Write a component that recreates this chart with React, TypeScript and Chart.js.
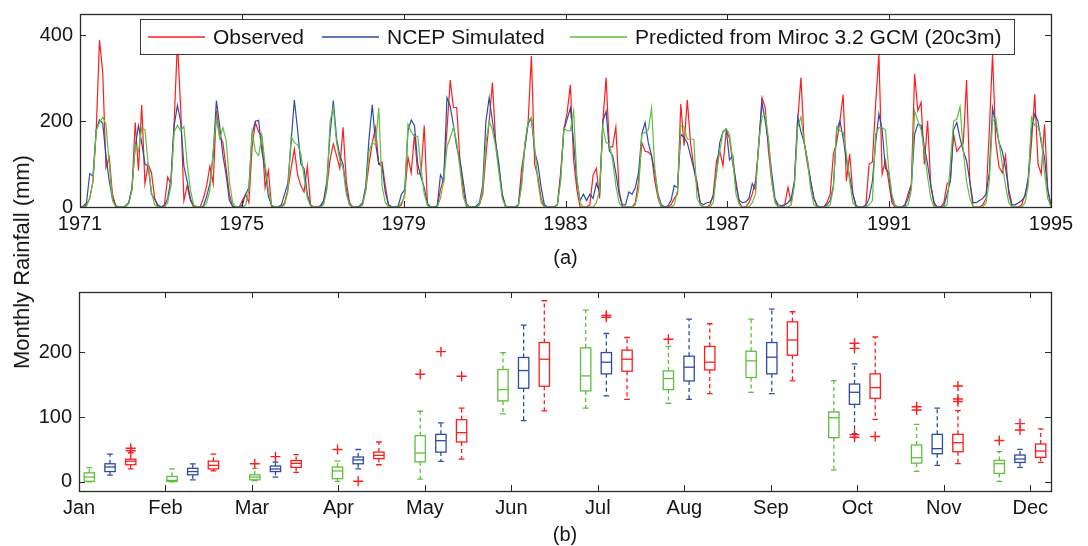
import React, { useEffect, useRef } from "react";
import { Chart, registerables } from "chart.js";

Chart.register(...registerables);

const FONT = "'Liberation Sans', Arial, Helvetica, sans-serif";
const TEXT = "#161616";
const AXIS = "#2a2a2a";
const RED = "#ff1c1c";
const BLUE = "#2d4ca6";
const GREEN = "#5fbf3e";

// ---------- panel (a): monthly series 1971-1995 ----------
const startYear = 1971;
const endYear = 1995;
const yearTicks = [1971, 1975, 1979, 1983, 1987, 1991, 1995];
const topYTicks = [0, 200, 400];
const seriesNames = ["Observed", "NCEP Simulated", "Predicted from Miroc 3.2 GCM (20c3m)"];

const observed = [
  0, 0, 5, 20, 60, 180, 389, 313, 92, 116, 30, 3,
  0, 0, 0, 10, 40, 197, 85, 238, 54, 100, 80, 20,
  0, 0, 5, 70, 55, 200, 385, 230, 15, 50, 15, 0,
  0, 0, 20, 50, 95, 54, 225, 165, 150, 90, 30, 0,
  0, 0, 15, 30, 10, 140, 197, 175, 165, 45, 85, 0,
  0, 0, 0, 10, 40, 90, 135, 75, 50, 35, 95, 5,
  0, 0, 0, 10, 45, 110, 147, 120, 90, 186, 60, 10,
  0, 0, 0, 5, 40, 100, 150, 185, 100, 105, 50, 5,
  0, 0, 0, 5, 30, 116, 80, 170, 77, 77, 190, 5,
  0, 0, 0, 40, 70, 180, 296, 232, 232, 108, 40, 0,
  0, 0, 0, 5, 30, 120, 200, 290, 150, 90, 30, 0,
  0, 0, 0, 5, 90, 140, 200, 352, 100, 70, 20, 0,
  0, 0, 0, 5, 80, 180, 220, 285, 110, 40, 0, 0,
  0, 5, 75, 90, 20, 200, 302, 140, 140, 186, 40, 0,
  0, 0, 0, 10, 60, 150, 130, 128, 120, 60, 20, 0,
  0, 0, 5, 20, 30, 240, 143, 250, 150, 93, 60, 5,
  0, 0, 5, 30, 108, 130, 96, 178, 160, 100, 60, 10,
  0, 0, 10, 30, 60, 140, 255, 232, 130, 60, 15, 0,
  0, 5, 46, 10, 60, 201, 302, 150, 100, 60, 20, 0,
  0, 0, 10, 30, 124, 150, 201, 262, 60, 124, 30, 0,
  0, 0, 5, 100, 105, 240, 356, 77, 108, 60, 10, 0,
  0, 0, 5, 31, 54, 310, 224, 244, 100, 201, 50, 5,
  0, 0, 10, 54, 60, 170, 130, 140, 150, 296, 60, 0,
  0, 0, 5, 20, 178, 356, 150, 93, 80, 120, 30, 0,
  0, 0, 5, 30, 60, 150, 263, 100, 77, 193, 40, 0,
];

const ncep = [
  0, 2, 10, 78, 72, 180, 203, 195, 120, 60, 20, 3,
  0, 0, 3, 10, 45, 140, 190, 150, 100, 95, 30, 18,
  5, 0, 3, 20, 65, 190, 237, 200, 95, 60, 20, 3,
  0, 0, 2, 25, 55, 120, 248, 190, 120, 75, 15, 2,
  0, 0, 5, 30, 45, 170, 200, 202, 130, 90, 25, 3,
  0, 0, 5, 30, 55, 150, 250, 180, 100, 90, 30, 3,
  0, 0, 3, 15, 60, 170, 248, 160, 120, 100, 40, 5,
  0, 0, 2, 10, 50, 160, 238, 150, 100, 95, 35, 5,
  0, 0, 3, 30, 40, 178, 203, 190, 100, 70, 45, 8,
  0, 0, 3, 75, 60, 255, 235, 190, 140, 110, 60, 8,
  0, 0, 2, 10, 50, 200, 255, 200, 150, 100, 30, 3,
  0, 0, 0, 5, 60, 140, 195, 207, 130, 100, 45, 5,
  0, 0, 0, 5, 70, 180, 205, 231, 150, 60, 15, 30,
  15, 30, 20, 55, 35, 200, 223, 131, 120, 80, 30, 5,
  5, 35, 30, 45, 80, 170, 197, 150, 120, 80, 30, 5,
  0, 3, 15, 50, 45, 170, 162, 150, 120, 90, 50, 10,
  5, 10, 11, 23, 80, 150, 175, 182, 110, 120, 50, 15,
  10, 12, 20, 55, 40, 150, 244, 200, 150, 80, 20, 5,
  3, 5, 10, 20, 60, 209, 175, 150, 110, 60, 20, 3,
  0, 0, 5, 15, 50, 178, 201, 160, 110, 70, 30, 3,
  0, 0, 3, 20, 60, 150, 217, 180, 90, 80, 20, 3,
  0, 0, 3, 20, 50, 170, 193, 190, 140, 100, 50, 10,
  0, 0, 3, 30, 60, 180, 197, 160, 130, 108, 60, 10,
  10, 15, 20, 30, 80, 231, 190, 150, 130, 90, 40, 5,
  5, 10, 15, 25, 70, 180, 217, 200, 150, 115, 40, 5,
];

const miroc = [
  0, 0, 2, 20, 60, 178, 197, 209, 193, 100, 15, 0,
  0, 0, 2, 8, 40, 145, 130, 185, 180, 100, 35, 5,
  0, 0, 0, 10, 50, 175, 190, 178, 188, 100, 40, 5,
  0, 0, 0, 10, 40, 130, 208, 160, 185, 155, 60, 10,
  0, 0, 0, 5, 40, 175, 130, 120, 168, 100, 40, 5,
  0, 0, 0, 5, 35, 165, 150, 145, 125, 70, 20, 3,
  0, 0, 0, 5, 40, 200, 232, 150, 110, 90, 30, 5,
  0, 0, 0, 5, 40, 130, 150, 145, 231, 50, 10, 0,
  0, 0, 0, 10, 25, 193, 175, 165, 165, 90, 30, 3,
  0, 0, 0, 20, 60, 140, 162, 186, 150, 90, 25, 3,
  0, 0, 0, 5, 40, 150, 200, 180, 140, 80, 20, 2,
  0, 0, 0, 3, 50, 150, 200, 209, 140, 60, 10, 0,
  0, 0, 0, 5, 60, 184, 178, 178, 224, 70, 10, 0,
  0, 0, 0, 10, 40, 186, 150, 147, 110, 50, 10, 0,
  0, 0, 0, 5, 40, 170, 174, 180, 231, 90, 25, 0,
  0, 0, 0, 5, 40, 190, 187, 158, 158, 158, 20, 5,
  0, 0, 0, 10, 80, 131, 175, 182, 170, 110, 30, 5,
  0, 0, 0, 10, 30, 150, 210, 217, 160, 60, 10, 0,
  0, 0, 0, 5, 50, 186, 210, 151, 110, 40, 5, 0,
  0, 0, 0, 5, 45, 187, 178, 174, 124, 60, 10, 0,
  0, 0, 0, 5, 15, 170, 185, 185, 180, 90, 30, 3,
  0, 0, 0, 5, 40, 224, 201, 180, 130, 70, 20, 0,
  0, 0, 0, 5, 100, 200, 205, 234, 130, 60, 20, 0,
  0, 0, 0, 10, 60, 201, 207, 150, 100, 50, 10, 0,
  0, 0, 0, 10, 50, 209, 190, 187, 160, 80, 20, 0,
];

// ---------- panel (b): monthly box plots ----------
const months = ["Jan", "Feb", "Mar", "Apr", "May", "Jun", "Jul", "Aug", "Sep", "Oct", "Nov", "Dec"];
const bottomYTicks = [0, 100, 200];

// [lower whisker, Q1, median, Q3, upper whisker] per month
const mirocBox = [
  [0, 1, 7.5, 14, 22],
  [0, 0.8, 2.3, 8.5, 20],
  [2, 3.3, 7.5, 11, 21],
  [0.8, 5, 17, 23, 32],
  [4.4, 31, 44.6, 71.4, 109],
  [105, 125, 142.5, 173.4, 199.6],
  [114, 140.4, 163.6, 206.8, 265],
  [121.4, 142.5, 159.5, 171.3, 209],
  [138.3, 161, 186.8, 201.6, 251],
  [18.3, 68.3, 99, 108, 156.4],
  [16.2, 29, 37.4, 57, 88.9],
  [0.8, 13.1, 28.1, 33.2, 46.6],
];
const ncepBox = [
  [10.6, 16, 23, 28, 43],
  [3.3, 11, 16, 21, 28],
  [7.5, 16, 20, 24.5, 30.6],
  [20, 28, 34, 38.4, 50],
  [31.7, 46, 63.6, 73.4, 91],
  [94.5, 144.5, 171.8, 192, 242],
  [132.7, 166.7, 184.7, 199.6, 229],
  [127.5, 155.8, 177, 194, 251],
  [136.2, 166.7, 192.4, 215, 266.6],
  [74.4, 119.7, 138.3, 151, 182],
  [25.5, 43.5, 51.3, 73.4, 114],
  [22.4, 30.1, 35.3, 41.5, 50.2],
];
const observedBox = [
  [20, 26.5, 32, 35, 45],
  [17, 20, 25.5, 32, 43],
  [14.7, 22.4, 28.6, 33, 42],
  [26.5, 36, 41, 46, 61.6],
  [35.3, 61.6, 76, 96, 114],
  [109.5, 147.6, 189.3, 215, 279.5],
  [127.5, 170.8, 189.3, 203.3, 222.8],
  [136.2, 172.8, 184.7, 209, 244],
  [155.8, 195.5, 219, 247, 262.5],
  [96.6, 129, 145.5, 166.7, 223.6],
  [28.1, 46.6, 60.5, 73.4, 110],
  [30.1, 37.9, 47.6, 58.5, 81.7],
];

// outliers per month
const mirocOut = [[], [], [28], [50], [166], [], [], [220], [], [], [116, 111], [64]];
const ncepOut = [[], [], [39], [1], [201], [], [257, 254], [], [], [214, 206, 73, 69], [], [90, 80]];
const observedOut = [[52, 48], [], [], [], [163], [], [], [], [], [70], [148, 128, 124], []];

const boxGroups = [
  { stats: mirocBox, outliers: mirocOut, color: GREEN },
  { stats: ncepBox, outliers: ncepOut, color: BLUE },
  { stats: observedBox, outliers: observedOut, color: RED },
];

const boxPos = (month: number, series: number) => month * 4 + series + 1;
const monthTickPos = (month: number) => 0.5 + (month * 46) / 11;
const xOfIndex = (i: number) => startYear + (i * (endYear - startYear)) / (observed.length - 1);

// ---------- plugins ----------
const framePlugin = {
  id: "frame",
  afterDraw(chart: any) {
    const { ctx, chartArea: a, scales } = chart;
    const x = scales.x;
    const y = scales.y;
    const L = 6;
    ctx.save();
    ctx.strokeStyle = AXIS;
    ctx.lineWidth = 1;
    ctx.setLineDash([]);
    ctx.beginPath();
    for (const t of x.ticks) {
      const px = Math.round(x.getPixelForValue(t.value)) + 0.5;
      ctx.moveTo(px, a.bottom);
      ctx.lineTo(px, a.bottom - L);
      ctx.moveTo(px, a.top);
      ctx.lineTo(px, a.top + L);
    }
    for (const t of y.ticks) {
      const py = Math.round(y.getPixelForValue(t.value)) + 0.5;
      ctx.moveTo(a.left, py);
      ctx.lineTo(a.left + L, py);
      ctx.moveTo(a.right, py);
      ctx.lineTo(a.right - L, py);
    }
    ctx.stroke();
    ctx.lineWidth = 1.3;
    ctx.strokeRect(Math.round(a.left) + 0.5, Math.round(a.top) + 0.5, Math.round(a.right - a.left), Math.round(a.bottom - a.top));
    ctx.restore();
  },
};

const legendPlugin = {
  id: "boxedLegend",
  afterDatasetsDraw(chart: any) {
    const { ctx, chartArea: a } = chart;
    const left = a.left + 60;
    const top = a.top + 5;
    const width = 874;
    const height = 35;
    const itemOffsets = [8, 182, 430];
    const colors = [RED, BLUE, GREEN];
    ctx.save();
    ctx.fillStyle = "#ffffff";
    ctx.fillRect(left, top, width, height);
    ctx.strokeStyle = "#3a3a3a";
    ctx.lineWidth = 1;
    ctx.strokeRect(left + 0.5, top + 0.5, width, height);
    const cy = top + height / 2 + 0.5;
    ctx.font = `21px ${FONT}`;
    ctx.textBaseline = "middle";
    ctx.textAlign = "left";
    seriesNames.forEach((name, i) => {
      const sx = left + itemOffsets[i];
      ctx.strokeStyle = colors[i];
      ctx.lineWidth = 1.3;
      ctx.beginPath();
      ctx.moveTo(sx, cy);
      ctx.lineTo(sx + 57, cy);
      ctx.stroke();
      ctx.fillStyle = TEXT;
      ctx.fillText(name, sx + 65, cy + 1);
    });
    ctx.restore();
  },
};

const boxPlugin = {
  id: "boxes",
  beforeDatasetsDraw(chart: any) {
    const { ctx, scales } = chart;
    const x = scales.x;
    const y = scales.y;
    const half = (x.getPixelForValue(0.5) - x.getPixelForValue(0)) / 2;
    const capHalf = half * 0.55;
    ctx.save();
    ctx.lineWidth = 1.3;
    boxGroups.forEach((g, s) => {
      g.stats.forEach((st, j) => {
        const [lo, q1, med, q3, hi] = st;
        const cx = x.getPixelForValue(boxPos(j, s));
        const pLo = y.getPixelForValue(lo);
        const pQ1 = y.getPixelForValue(q1);
        const pMed = y.getPixelForValue(med);
        const pQ3 = y.getPixelForValue(q3);
        const pHi = y.getPixelForValue(hi);
        ctx.strokeStyle = g.color;
        // whiskers (dashed)
        ctx.setLineDash([4, 3]);
        ctx.beginPath();
        ctx.moveTo(cx, pQ3);
        ctx.lineTo(cx, pHi);
        ctx.moveTo(cx, pQ1);
        ctx.lineTo(cx, pLo);
        ctx.stroke();
        ctx.setLineDash([]);
        // caps
        ctx.beginPath();
        ctx.moveTo(cx - capHalf, pHi);
        ctx.lineTo(cx + capHalf, pHi);
        ctx.moveTo(cx - capHalf, pLo);
        ctx.lineTo(cx + capHalf, pLo);
        ctx.stroke();
        // box
        ctx.strokeRect(cx - half, pQ3, half * 2, pQ1 - pQ3);
        // median
        ctx.beginPath();
        ctx.moveTo(cx - half, pMed);
        ctx.lineTo(cx + half, pMed);
        ctx.stroke();
      });
    });
    ctx.restore();
  },
};

const tickFont = { family: FONT, size: 20 };
const noGrid = { display: false, drawTicks: false, tickLength: 0 };

const fixX = (h: number) => (s: any) => {
  s.height = h;
  s.paddingLeft = 0;
  s.paddingRight = 0;
};
const fixY = (w: number) => (s: any) => {
  s.width = w;
  s.paddingTop = 0;
  s.paddingBottom = 0;
};

function TopChart() {
  const ref = useRef<HTMLCanvasElement | null>(null);
  useEffect(() => {
    if (!ref.current) return;
    const mk = (arr: number[]) => arr.map((v, i) => ({ x: xOfIndex(i), y: v }));
    const chart = new Chart(ref.current, {
      type: "line",
      data: {
        datasets: [
          { label: seriesNames[0], data: mk(observed), borderColor: RED, borderWidth: 1.2, pointRadius: 0, tension: 0, order: 3 },
          { label: seriesNames[1], data: mk(ncep), borderColor: BLUE, borderWidth: 1.2, pointRadius: 0, tension: 0, order: 2 },
          { label: seriesNames[2], data: mk(miroc), borderColor: GREEN, borderWidth: 1.2, pointRadius: 0, tension: 0, order: 1 },
        ],
      },
      options: {
        responsive: false,
        animation: false,
        devicePixelRatio: 1,
        events: [],
        layout: { padding: { left: 0, right: 37, top: 14, bottom: 0 } },
        plugins: { legend: { display: false }, tooltip: { enabled: false } },
        scales: {
          x: {
            type: "linear",
            min: startYear,
            max: endYear,
            afterBuildTicks: (s: any) => {
              s.ticks = yearTicks.map((v) => ({ value: v }));
            },
            afterFit: fixX(68),
            grid: noGrid,
            border: { display: false },
            ticks: { color: TEXT, font: tickFont, padding: 5, maxRotation: 0, autoSkip: false, callback: (v: any) => String(v) },
            title: { display: true, text: "(a)", color: TEXT, font: { family: FONT, size: 20, lineHeight: 1 }, padding: { top: 0, bottom: 7 } },
          },
          y: {
            type: "linear",
            min: 0,
            max: 450,
            afterBuildTicks: (s: any) => {
              s.ticks = topYTicks.map((v) => ({ value: v }));
            },
            afterFit: fixY(80),
            grid: noGrid,
            border: { display: false },
            ticks: { color: TEXT, font: tickFont, padding: 7, callback: (v: any) => String(v) },
          },
        },
      },
      plugins: [legendPlugin, framePlugin],
    } as any);
    return () => chart.destroy();
  }, []);
  return <canvas ref={ref} width={1088} height={275} style={{ position: "absolute", left: 0, top: 0, width: 1088, height: 275 }} />;
}

function BottomChart() {
  const ref = useRef<HTMLCanvasElement | null>(null);
  useEffect(() => {
    if (!ref.current) return;
    const outlierPoints: { x: number; y: number }[] = [];
    boxGroups.forEach((g, s) =>
      g.outliers.forEach((vals, j) => vals.forEach((v) => outlierPoints.push({ x: boxPos(j, s), y: v })))
    );
    const chart = new Chart(ref.current, {
      type: "scatter",
      data: {
        datasets: [
          {
            label: "Outliers",
            data: outlierPoints,
            pointStyle: "cross",
            pointRadius: 5,
            borderColor: RED,
            backgroundColor: RED,
            borderWidth: 1.4,
          },
        ],
      },
      options: {
        responsive: false,
        animation: false,
        devicePixelRatio: 1,
        events: [],
        layout: { padding: { left: 0, right: 37, top: 20, bottom: 0 } },
        plugins: { legend: { display: false }, tooltip: { enabled: false } },
        scales: {
          x: {
            type: "linear",
            min: 0.5,
            max: 47.5,
            afterBuildTicks: (s: any) => {
              s.ticks = months.map((_, j) => ({ value: monthTickPos(j) }));
            },
            afterFit: fixX(55),
            grid: noGrid,
            border: { display: false },
            ticks: {
              color: TEXT,
              font: tickFont,
              padding: 5,
              maxRotation: 0,
              autoSkip: false,
              callback: (_v: any, idx: number) => months[idx],
            },
            title: { display: true, text: "(b)", color: TEXT, font: { family: FONT, size: 20, lineHeight: 1 }, padding: { top: 0, bottom: 1 } },
          },
          y: {
            type: "linear",
            min: -14,
            max: 293,
            afterBuildTicks: (s: any) => {
              s.ticks = bottomYTicks.map((v) => ({ value: v }));
            },
            afterFit: fixY(79),
            grid: noGrid,
            border: { display: false },
            ticks: { color: TEXT, font: tickFont, padding: 7, callback: (v: any) => String(v) },
          },
        },
      },
      plugins: [boxPlugin, framePlugin],
    } as any);
    return () => chart.destroy();
  }, []);
  return <canvas ref={ref} width={1088} height={274} style={{ position: "absolute", left: 0, top: 272, width: 1088, height: 274 }} />;
}

export default function App() {
  return (
    <div style={{ position: "fixed", left: 0, top: 0, width: 1088, height: 546, background: "#ffffff", overflow: "hidden" }}>
      <TopChart />
      <BottomChart />
      <div
        style={{
          position: "absolute",
          left: 22,
          top: 262,
          transform: "translate(-50%, -50%) rotate(-90deg)",
          whiteSpace: "nowrap",
          fontFamily: FONT,
          fontSize: 22,
          color: TEXT,
          lineHeight: 1,
        }}
      >
        Monthly Rainfall (mm)
      </div>
    </div>
  );
}
